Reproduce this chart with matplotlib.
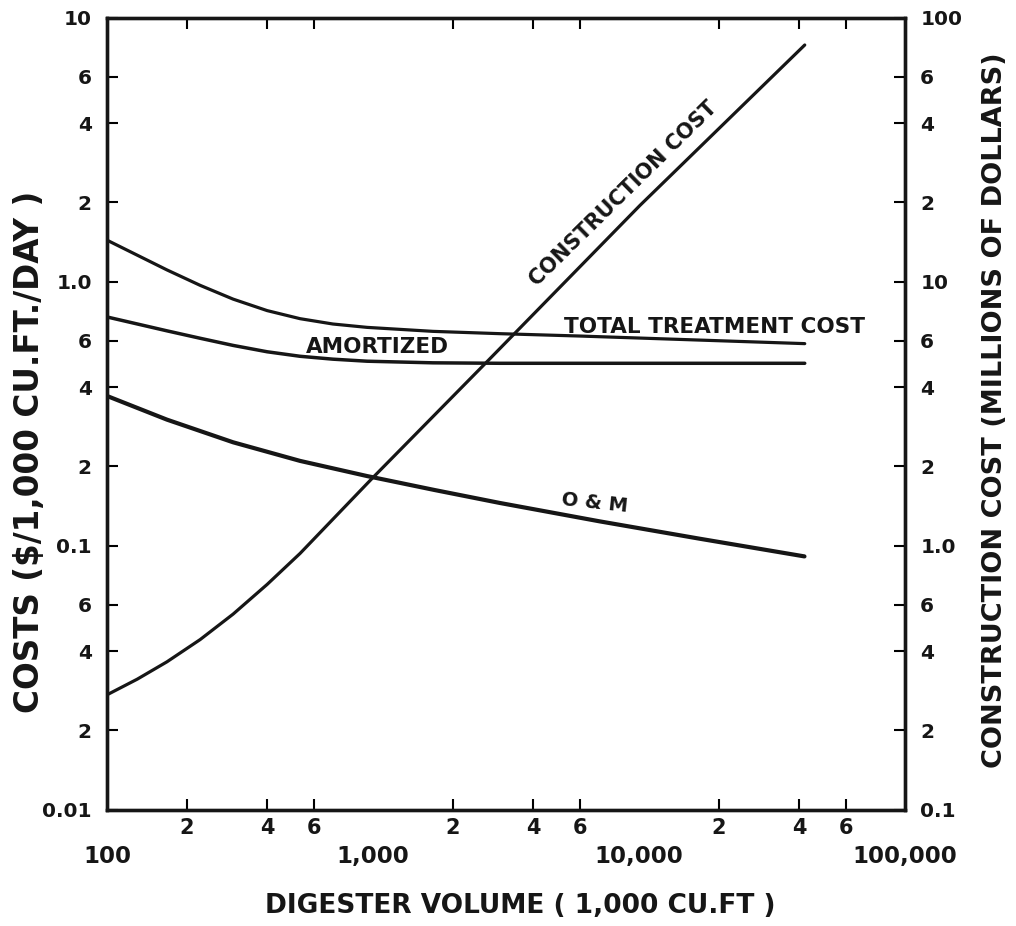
import numpy as np
import matplotlib
matplotlib.use("Agg")
import matplotlib.pyplot as plt
from matplotlib.ticker import FixedLocator, FixedFormatter

# Valores (volume do digestor em 1.000 pés cúbicos)
vol_total = [100, 168, 224, 298, 400, 532, 707, 950, 1680, 3000, 6000, 42000]
custo_total = [1.44, 1.111, 0.971, 0.861, 0.779, 0.726, 0.693, 0.673, 0.650, 0.637, 0.624, 0.584]

vol_amort = [100, 168, 224, 298, 400, 532, 707, 950, 1680, 3000, 42000]
custo_amort = [0.737, 0.653, 0.612, 0.575, 0.544, 0.523, 0.510, 0.501, 0.494, 0.492, 0.492]

vol_om = [100, 168, 298, 532, 950, 1700, 3000, 7100, 16850, 41900]
custo_om = [0.370, 0.301, 0.247, 0.210, 0.184, 0.163, 0.1455, 0.124, 0.1066, 0.0913]

vol_constr = [100, 130, 168, 224, 298, 400, 532, 991, 2637, 10088, 42000]
custo_constr = [0.273, 0.313, 0.364, 0.442, 0.552, 0.715, 0.937, 1.80, 4.90, 19.5, 79.0]

# Rótulos dos eixos
x_maiores = [100, 1000, 10000, 100000]
x_maiores_txt = ['100', '1,000', '10,000', '100,000']
x_menores = [200, 400, 600, 2000, 4000, 6000, 20000, 40000, 60000]
x_menores_txt = ['2', '4', '6'] * 3

y_maiores = [0.01, 0.1, 1.0, 10]
y_maiores_txt = ['0.01', '0.1', '1.0', '10']
y_menores = [0.02, 0.04, 0.06, 0.2, 0.4, 0.6, 2, 4, 6]

y2_maiores = [0.1, 1.0, 10, 100]
y2_maiores_txt = ['0.1', '1.0', '10', '100']
y2_menores = [0.2, 0.4, 0.6, 2, 4, 6, 20, 40, 60]
y_menores_txt = ['2', '4', '6'] * 3

cor = '#161616'
fonte = ['DejaVu Sans']

fig = plt.figure(figsize=(10.16, 9.26), dpi=100)
ax = fig.add_axes([0.1053, 0.1253, 0.7854, 0.8553])
ax2 = ax.twinx()

ax.plot(vol_total, custo_total, color=cor, lw=2.3, solid_capstyle='round')
ax.plot(vol_amort, custo_amort, color=cor, lw=2.5, solid_capstyle='round')
ax.plot(vol_om, custo_om, color=cor, lw=3.0, solid_capstyle='round')
ax2.plot(vol_constr, custo_constr, color=cor, lw=2.3, solid_capstyle='round')

ax.set_xscale('log')
ax.set_yscale('log')
ax2.set_yscale('log')
ax.set_xlim(100, 100000)
ax.set_ylim(0.01, 10)
ax2.set_ylim(0.1, 100)

# Eixo x
ax.xaxis.set_major_locator(FixedLocator(x_maiores))
ax.xaxis.set_major_formatter(FixedFormatter(x_maiores_txt))
ax.xaxis.set_minor_locator(FixedLocator(x_menores))
ax.xaxis.set_minor_formatter(FixedFormatter(x_menores_txt))
ax.tick_params(axis='x', which='major', pad=25, length=0, labelsize=16.5)
ax.tick_params(axis='x', which='minor', pad=6, length=8, width=1.5,
               direction='in', top=True, labelsize=15)

# Eixo y esquerdo
ax.yaxis.set_major_locator(FixedLocator(y_maiores))
ax.yaxis.set_major_formatter(FixedFormatter(y_maiores_txt))
ax.yaxis.set_minor_locator(FixedLocator(y_menores))
ax.yaxis.set_minor_formatter(FixedFormatter(y_menores_txt))
ax.tick_params(axis='y', which='both', direction='in', length=8, width=1.5,
               pad=11, labelsize=14.5, right=False)

# Eixo y direito
ax2.yaxis.set_major_locator(FixedLocator(y2_maiores))
ax2.yaxis.set_major_formatter(FixedFormatter(y2_maiores_txt))
ax2.yaxis.set_minor_locator(FixedLocator(y2_menores))
ax2.yaxis.set_minor_formatter(FixedFormatter(y_menores_txt))
ax2.tick_params(axis='y', which='both', direction='in', length=8, width=1.5,
                pad=11, labelsize=14.5)

for a in (ax, ax2):
    for lab in a.get_xticklabels(which='both') + a.get_yticklabels(which='both'):
        lab.set_fontweight('bold')
        lab.set_color(cor)
    for s in a.spines.values():
        s.set_linewidth(2.4)
        s.set_color(cor)

# Títulos dos eixos
fig.text(520 / 1016, 1 - 906 / 926, 'DIGESTER VOLUME ( 1,000 CU.FT )',
         ha='center', va='center', fontsize=19, fontweight='bold',
         family=fonte, color=cor)
fig.text(30 / 1016, 1 - 452 / 926, 'COSTS ($/1,000 CU.FT./DAY )',
         ha='center', va='center', rotation=90, fontsize=23.5, fontweight='bold',
         family=fonte, color=cor)
fig.text(995 / 1016, 1 - 410 / 926, 'CONSTRUCTION COST (MILLIONS OF DOLLARS)',
         ha='center', va='center', rotation=90, fontsize=19.5, fontweight='bold',
         family=fonte, color=cor)

# Rótulos das curvas
ax2.text(8700, 21.5, 'CONSTRUCTION COST', rotation=44.5, ha='center', va='center',
         fontsize=15, fontweight='bold', family=fonte, color=cor)
ax.text(19150, 0.675, 'TOTAL TREATMENT COST', ha='center', va='center',
        fontsize=15.5, fontweight='bold', family=fonte, color=cor)
ax.text(1035, 0.568, 'AMORTIZED', ha='center', va='center',
        fontsize=15.5, fontweight='bold', family=fonte, color=cor)
ax.text(6840, 0.1455, 'O & M', rotation=-6, ha='center', va='center',
        fontsize=14, fontweight='bold', family=fonte, color=cor)

fig.savefig('out.png', dpi=100, facecolor='white')
